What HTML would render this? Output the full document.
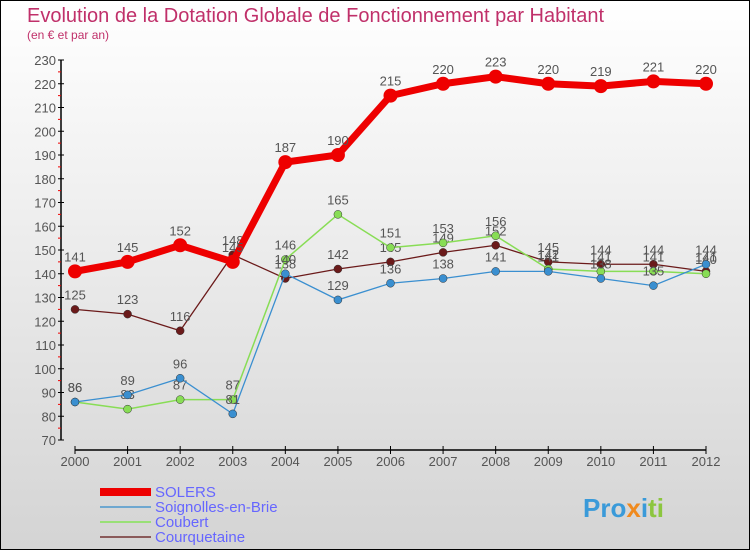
<!DOCTYPE html>
<html><head><meta charset="utf-8"><style>
body{margin:0;width:750px;height:550px;overflow:hidden;font-family:"Liberation Sans",sans-serif}
svg{display:block}
</style></head><body>
<svg width="750" height="550" id="c">
<defs><linearGradient id="bg" x1="0" y1="0" x2="0" y2="1"><stop offset="0" stop-color="#ffffff"/><stop offset="1" stop-color="#d4d4d4"/></linearGradient></defs>
<rect x="0.5" y="0.5" width="749" height="549" fill="url(#bg)" stroke="#000"/>
<text x="27" y="22" font-size="20" fill="#c0306a">Evolution de la Dotation Globale de Fonctionnement par Habitant</text>
<text x="27" y="39" font-size="12" fill="#c0306a">(en € et par an)</text>
<g id="axes"></g><g id="series"></g><g id="legend"></g>
<text x="583" y="517" font-size="26" font-weight="bold" fill="#3a9ad9">Pro<tspan fill="#f08a1e">x</tspan><tspan fill="#3a9ad9">i</tspan><tspan fill="#8cc63f">ti</tspan></text>
</svg>
<script>
const years=[2000,2001,2002,2003,2004,2005,2006,2007,2008,2009,2010,2011,2012];
const yTicks=[70,80,90,100,110,120,130,140,150,160,170,180,190,200,210,220,230];
const solers=[141,145,152,145,187,190,215,220,223,220,219,221,220];
const soignolles=[86,89,96,81,140,129,136,138,141,141,138,135,144];
const coubert=[86,83,87,87,146,165,151,153,156,142,141,141,140];
const courquetaine=[125,123,116,148,138,142,145,149,152,145,144,144,141];
const NS="http://www.w3.org/2000/svg";
const X=i=>75+i*(706-75)/12;
const Y=v=>440-(v-70)*2.375;
function mk(t,a,p){const e=document.createElementNS(NS,t);for(const k in a)e.setAttribute(k,a[k]);p.appendChild(e);return e;}
const ax=document.getElementById('axes');
let yl=mk('line',{x1:61,y1:Y(230),x2:61,y2:Y(70),stroke:'#000','stroke-width':1.5},ax);


yTicks.forEach((v,k)=>{
  mk('line',{x1:58,y1:Y(v),x2:64,y2:Y(v),stroke:'#000'},ax);
  if(k<yTicks.length-1) mk('line',{x1:58,y1:Y(v+5),x2:61,y2:Y(v+5),stroke:'#e00'},ax);
  const t=mk('text',{x:56,y:Y(v)+5,'font-size':13,'text-anchor':'end',fill:'#555'},ax);t.textContent=v;
  
  
});
let xl=mk('line',{x1:X(0),y1:450,x2:X(12),y2:450,stroke:'#000','stroke-width':1.5},ax);


years.forEach((y,i)=>{
  mk('line',{x1:X(i),y1:446,x2:X(i),y2:454,stroke:'#000'},ax);
  const t=mk('text',{x:X(i),y:466,'font-size':13,'text-anchor':'middle',fill:'#555'},ax);t.textContent=y;
  
  
});
const sg=document.getElementById('series');
const defs=[
 {d:courquetaine,c:'#6b1a1a',w:1.3,r:4,n:'courquetaine'},
 {d:coubert,c:'#88dd55',w:1.5,r:4,n:'coubert'},
 {d:soignolles,c:'#3a8fd0',w:1.3,r:4,n:'soignolles-en-brie'},
 {d:solers,c:'#ee0000',w:7,r:7,n:'solers'}];
defs.forEach(s=>{
  const g=mk('g',{},sg);
  
  
  mk('polyline',{points:s.d.map((v,i)=>X(i)+','+Y(v)).join(' '),fill:'none',stroke:s.c,'stroke-width':s.w},g);
  s.d.forEach((v,i)=>{
    const p=mk('circle',{cx:X(i),cy:Y(v),r:s.r,fill:s.c,stroke:s.r>5?'none':'#333','stroke-width':0.5},g);
    
    
    const t=mk('text',{x:X(i),y:Y(v)-10,'font-size':13,'text-anchor':'middle',fill:'#555'},g);t.textContent=v;
    
    
  });
});
const lg=document.getElementById('legend');
[['SOLERS','#ee0000',8],['Soignolles-en-Brie','#6fa8d0',2],['Coubert','#99e077',2],['Courquetaine','#8a5a5a',2]].forEach((e,i)=>{
  const y=492+i*15;
  const g=mk('g',{},lg);
  
  
  mk('line',{x1:100,y1:y,x2:151,y2:y,stroke:e[1],'stroke-width':e[2]},g);
  const t=mk('text',{x:155,y:y+5,'font-size':15,fill:'#6666ff'},g);t.textContent=e[0];
});
</script>
</body></html>
